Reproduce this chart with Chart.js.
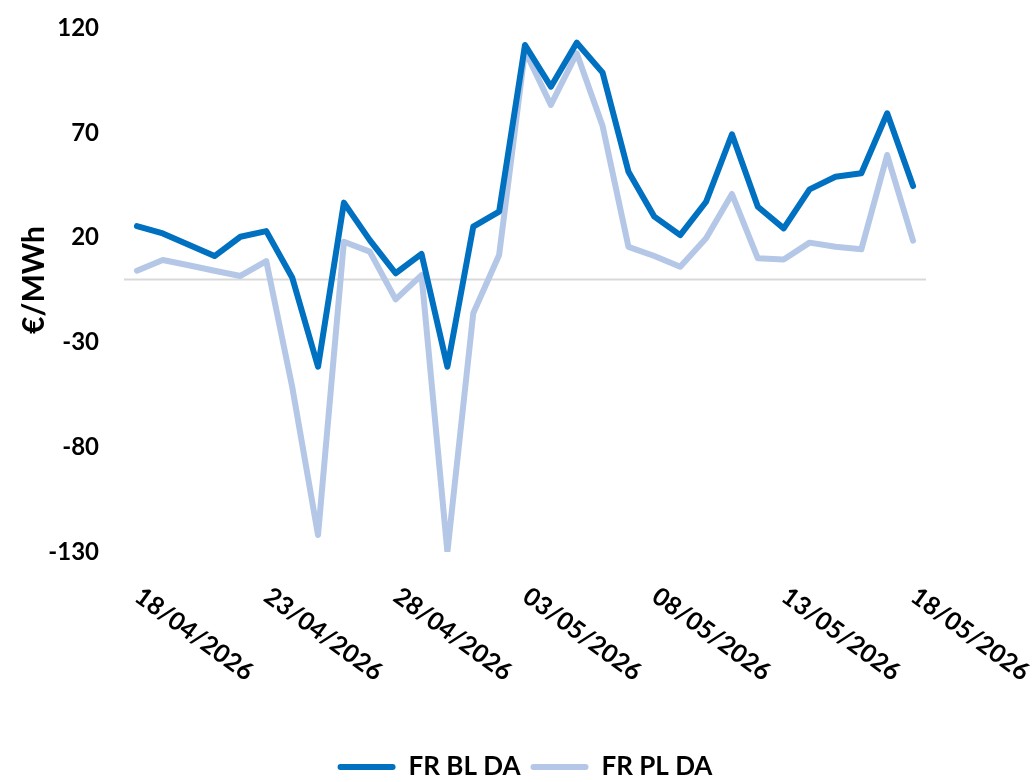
<!DOCTYPE html>
<html>
<head>
<meta charset="utf-8">
<script src="https://cdn.jsdelivr.net/npm/chart.js@4/dist/chart.umd.min.js"></script>
<style>
  html, body { margin: 0; padding: 0; background: #fff; }
  #wrap { width: 1032px; height: 782px; }
</style>
</head>
<body>
<div id="wrap"><canvas id="price_chart" width="1032" height="782"></canvas></div>
<script>
const dates = [
    '18/04/2026', '19/04/2026', '20/04/2026', '21/04/2026', '22/04/2026', '23/04/2026',
    '24/04/2026', '25/04/2026', '26/04/2026', '27/04/2026', '28/04/2026', '29/04/2026',
    '30/04/2026', '01/05/2026', '02/05/2026', '03/05/2026', '04/05/2026', '05/05/2026',
    '06/05/2026', '07/05/2026', '08/05/2026', '09/05/2026', '10/05/2026', '11/05/2026',
    '12/05/2026', '13/05/2026', '14/05/2026', '15/05/2026', '16/05/2026', '17/05/2026',
    '18/05/2026'
];
const blValues = [
    25.5, 22, 16.6, 11.2, 20.4, 23.1, 1.0, -41.6, 36.7, 18.8, 3.0, 12.2, -41.6,
    25.2, 32.4, 111.9, 92, 113, 98.7, 51.4, 30, 21.2, 37.1, 69.3, 34.7, 24.4, 43, 49, 50.7, 79.3, 44.6
];
const plValues = [
    4.2, 9.3, 6.8, 4.2, 1.7, 8.8, -51.1, -121.9, 18, 13.3, -9.5, 2.1, -130,
    -16.1, 11.7, 109.2, 83.3, 107.9, 73.2, 15.6, 11.2, 6.1, 19.7, 40.8, 10.1, 9.6, 17.6, 15.6, 14.4, 59.4, 18.5
];
const yMin = -130;
const yMax = 120;
const yStep = 50;
const xLabelEvery = 5;

const FONT = 'Lato, "Open Sans", sans-serif';

// zero line, rotated date labels and the y title
const extras = {
    id: 'extras',
    beforeDatasetsDraw(chart) {
        const { ctx, chartArea, scales } = chart;
        const y0 = scales.y.getPixelForValue(0);
        ctx.save();
        ctx.strokeStyle = '#d9d9d9';
        ctx.lineWidth = 2;
        ctx.beginPath();
        ctx.moveTo(chartArea.left, y0);
        ctx.lineTo(chartArea.right, y0);
        ctx.stroke();
        ctx.restore();
    },
    afterDraw(chart) {
        const { ctx, scales } = chart;
        ctx.save();
        ctx.fillStyle = '#000';
        ctx.font = 'bold 25px ' + FONT;
        ctx.textAlign = 'left';
        ctx.textBaseline = 'alphabetic';
        dates.forEach((d, i) => {
            if (i % xLabelEvery !== 0) return;
            const x = scales.x.getPixelForValue(i);
            ctx.save();
            ctx.translate(x - 4, 600);
            ctx.rotate(36 * Math.PI / 180);
            ctx.fillText(d, 0, 0);
            ctx.restore();
        });
        ctx.font = 'bold 30px ' + FONT;
        ctx.textAlign = 'center';
        ctx.translate(44, 280);
        ctx.rotate(-Math.PI / 2);
        ctx.fillText('€/MWh', 0, 0);
        ctx.restore();
    }
};

const chartElement = document.getElementById('price_chart');
new Chart(chartElement, {
    type: 'line',
    data: {
        labels: dates,
        datasets: [{
            label: 'FR BL DA',
            data: blValues,
            borderColor: '#0070c0',
            backgroundColor: '#0070c0',
            borderWidth: 6,
            pointRadius: 0,
            tension: 0,
            borderJoinStyle: 'round',
            borderCapStyle: 'round'
        }, {
            label: 'FR PL DA',
            data: plValues,
            borderColor: '#b4c7e7',
            backgroundColor: '#b4c7e7',
            borderWidth: 6,
            pointRadius: 0,
            tension: 0,
            borderJoinStyle: 'round',
            borderCapStyle: 'round'
        }]
    },
    options: {
        responsive: false,
        animation: false,
        layout: { padding: { left: 0, top: 28, right: 106, bottom: -8 } },
        scales: {
            x: {
                offset: true,
                grid: { display: false },
                border: { display: false },
                ticks: { display: false },
                afterFit: (scale) => { scale.height = 238 - (scale.chart.legend.height || 46); }
            },
            y: {
                min: yMin,
                max: yMax,
                grid: { display: false, drawTicks: false },
                border: { display: false },
                ticks: {
                    stepSize: yStep,
                    padding: 25,
                    color: '#000',
                    font: { family: FONT, size: 24, weight: 'bold' }
                },
                afterFit: (scale) => {
                    scale.width = 124;
                    scale.paddingTop = 0;
                    scale.paddingBottom = 0;
                }
            }
        },
        plugins: {
            tooltip: { enabled: false },
            legend: {
                position: 'bottom',
                fullSize: false,
                labels: {
                    color: '#000',
                    boxWidth: 58,
                    boxHeight: 6,
                    padding: 10,
                    useBorderRadius: true,
                    font: { family: FONT, size: 26, weight: 'bold' },
                    generateLabels: (chart) =>
                        Chart.defaults.plugins.legend.labels.generateLabels(chart).map(item => ({
                            ...item, lineWidth: 0, borderRadius: 3
                        }))
                }
            }
        }
    },
    plugins: [extras]
});
</script>
</body>
</html>
